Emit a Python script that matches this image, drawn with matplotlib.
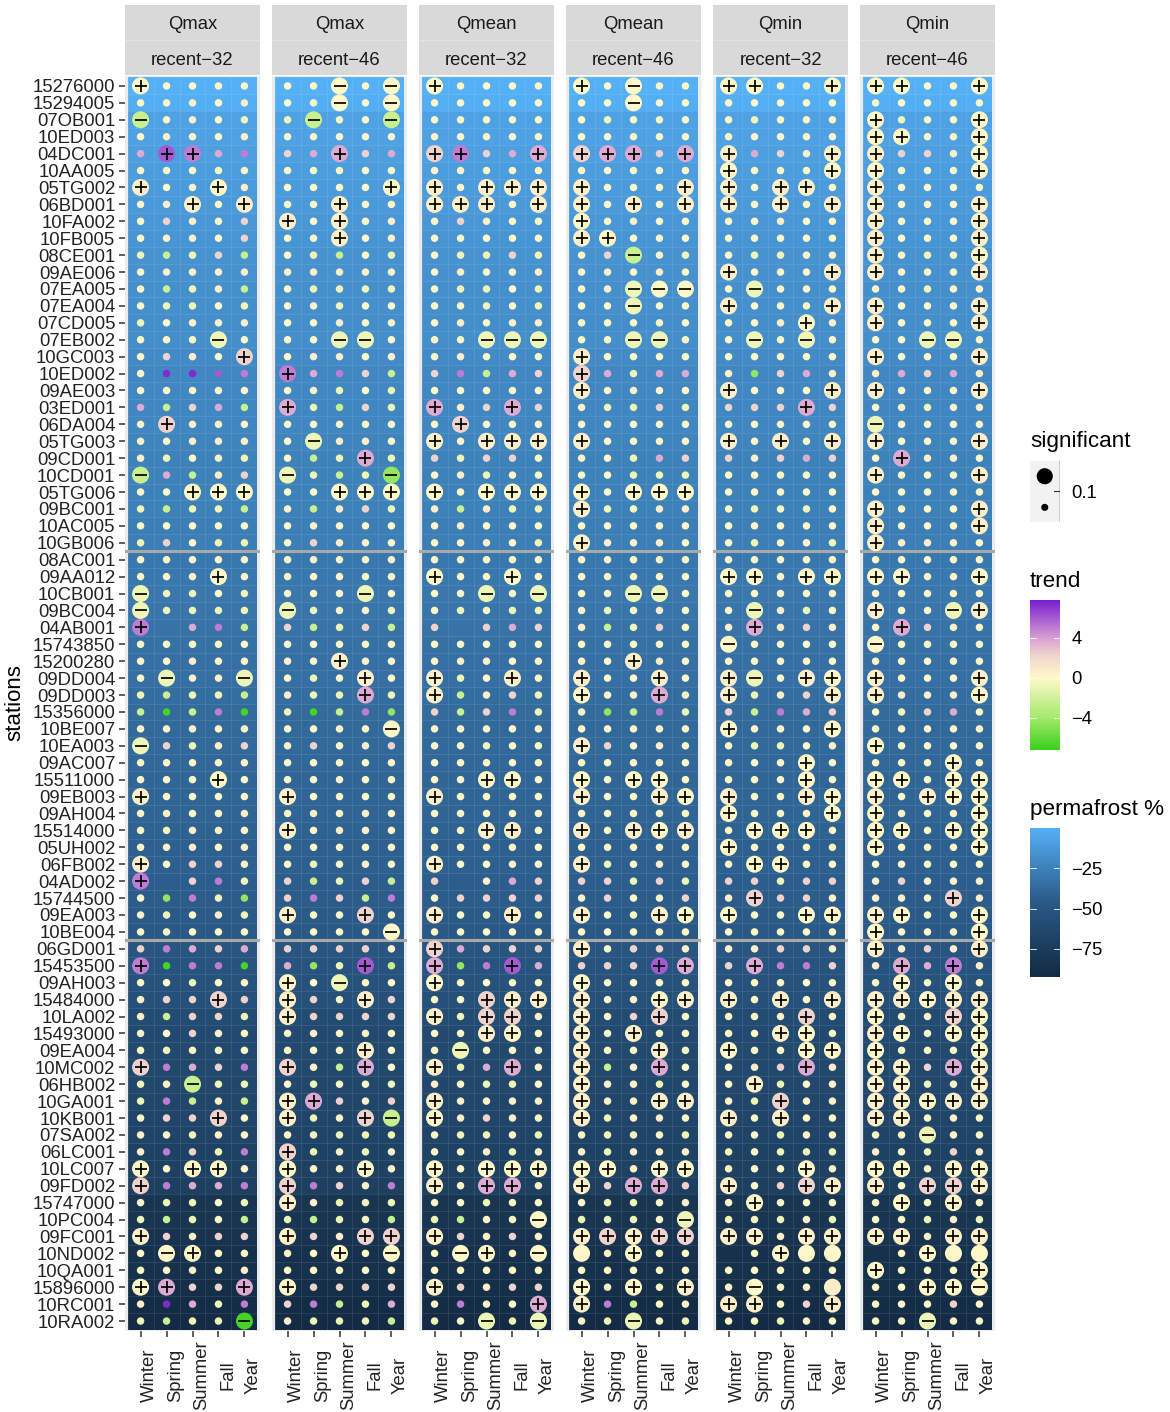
import matplotlib
matplotlib.use("Agg")
import matplotlib.pyplot as plt
import numpy as np
from matplotlib.colors import LinearSegmentedColormap, Normalize

plt.rcParams['font.family'] = ['Liberation Sans', 'DejaVu Sans']

W, H = 1170, 1412

stations = [
    "15276000", "15294005", "07OB001", "10ED003", "04DC001", "10AA005", "05TG002", "06BD001",
    "10FA002", "10FB005", "08CE001", "09AE006", "07EA005", "07EA004", "07CD005", "07EB002",
    "10GC003", "10ED002", "09AE003", "03ED001", "06DA004", "05TG003", "09CD001", "10CD001",
    "05TG006", "09BC001", "10AC005", "10GB006", "08AC001", "09AA012", "10CB001", "09BC004",
    "04AB001", "15743850", "15200280", "09DD004", "09DD003", "15356000", "10BE007", "10EA003",
    "09AC007", "15511000", "09EB003", "09AH004", "15514000", "05UH002", "06FB002", "04AD002",
    "15744500", "09EA003", "10BE004", "06GD001", "15453500", "09AH003", "15484000", "10LA002",
    "15493000", "09EA004", "10MC002", "06HB002", "10GA001", "10KB001", "07SA002", "06LC001",
    "10LC007", "09FD002", "15747000", "10PC004", "09FC001", "10ND002", "10QA001", "15896000",
    "10RC001", "10RA002",
]
seasons = ["Winter", "Spring", "Summer", "Fall", "Year"]
variables = ["Qmax", "Qmax", "Qmean", "Qmean", "Qmin", "Qmin"]
periods = ["recent\u221232", "recent\u221246"] * 3

# permafrost % per station (shown negative in the original)
permafrost = [
    -1, -2, -8, -9, -10, -11, -12, -13, -14, -15, -16, -17, -18, -18, -19, -19, -20, -22, -22, -23,
    -23, -24, -25, -25, -26, -26, -27, -27, -30, -30, -31, -32, -33, -34, -35, -35, -36, -37, -38,
    -38, -39, -40, -40, -41, -42, -43, -43, -44, -45, -46, -47, -50, -52, -54, -56, -60, -62, -63,
    -64, -65, -66, -67, -68, -70, -71, -72, -82, -83, -84, -86, -87, -88, -90, -92,
]

# trend, one letter per cell, one block per panel
trend_levels = {'.': 0.1, 'c': 0.7, 'p': 2.3, 'm': 3.6, 'M': 5.0, 'v': 6.0, 'V': 7.4,
                'y': -0.7, 'g': -2.4, 'G': -4.5, 'H': -6.8}
trend_rows = [
    "..... ..... ..... ..... ..... .....", "..c.c ..... ..... ..... ..... .....",
    "g.c.y yg..g ..... .y... .y... .y...", ".c..c ..... ..... ..... ..... .....",
    "mvMmM pmmpm pMpmm pmmpm cmpcc cppc.", "..... ..... ..... ..... ..... .....",
    "c.c.c ..... c.ccc c...c c.cc. c....", ".cc.c ..c.. ccc.c c.c.c c.c.c c...c",
    ".pc.p c.c.c .pc.. ..c.. ..c.. c...c", ".cc.p ..c.c ..... c.... ..... c...c",
    "ygypg .yg.y .yypy .pg.y .yy.c c.y..", ".cccc ccccc .c..c .c.c. c...c c...c",
    ".gycg .yyyy .yy.y .cy.. .y... ..y..", ".yy.y .cy.. ..y.y ..y.. c...c c...c",
    "y.ccc ..c.c .c.cc ..... ..c.c c...c", "...y. ..yy. ..yyy ..yy. .y.y. ..yy.",
    ".pc.p .cc.c .c... c.... ..... c...c", ".VVvM MmMpg pMgmp pmymm cGpmc cmpmc",
    "..... .cy.y ..... c.c.. c...c c...c", "mgpmg mygpy mcpmp cyypy pppmp .cycc",
    ".pcc. ..... .p... ..... ..... y....", "c.ccc .ycc. c.ccc c.... c.c.c c...c",
    "cy.cy .gymy pypp. c.ymp pcpmp .mcc.", "gmgcp yygyG .cy.. ..yyy ..... c...c",
    "..... ..... ..... ..... ..... .....", "ygyyg cgcpy cgcyy cy.cc .y.y. c...c",
    "..... .c... .c... ..... ..... c...c", "yp.yy .pcc. ..c.y cccc. .y..y cccc.",
    "..... .c..c ..... ..... ..... .....", "..... ..... ..... ..... ..... .....",
    "yyy.y ...y. ..y.y ..yy. ..... .....", "yyyyy yy.cy .y.yy .y.c. .ycy. c..yc",
    "M_mMg pgypg p_pmp cgyp. cmcpc .mpc.", "..... ..... ..... ..... ..... .....",
    "..c.. c.cc. .cc.. ..cc. ..... .....", ".yccy .y.c. cy.c. c..c. cy.c. c...c",
    "ygyyg cyymy cgcpy ..cmc cycpc cccc.", "gHgMH yHgMG pgpMy cGgMy pgMmp .ypm.",
    "..c.. ..... ..... ..... ..... .....", "ypycp cp.cp ..y.. cp.c. .yy.c .....",
    "..... ..... ..... ..... ..... .....", "..... ..... ..... ..... ..... .....",
    "c.... c.... c.... c..c. c..c. c.c..", ".c..c .c.c. ..... ..... ..... .....",
    ".ycc. c.cc. ..cc. c.c.c ..... .....", ".cc.c ..... ..... ..... ..... .....",
    "c.ppc .y.c. c..c. cy.c. ..... .....", "M_pMy pgypg p_cmp ppypy ppypp cpccc",
    ".GMyG pMpgM .pppp cp..p cpppc cc.pc", "cy.cy c..p. c..c. c..c. ..... c....",
    "..... ..... ..... ..... ..... .....", "pMmpm ppppc pmppp c.ppc ccppc ccpcc",
    "MHMMH mGyvg mGMvm pppvm pmMMp cmmMc", "..y.. ..y.. ..... ..... ..... .....",
    "cpppp cp.cp ..pcc c.c.c c.c.c cc.cc", "cgppy cpppp cyppc c.pp. ..cp. ..cp.",
    "c.pc. .c.c. ..c.. c.c.. ..c.. c....", ".y... ...c. .y... c..c. ..... .....",
    "pMmpM pcgm. cymmc cgcm. .cpmc ccpmc", "y.gyy .y..y c.yy. cc.y. .cy.c ccy.c",
    "yMgcg cmpcp cc.cc ccccc .yp.c cc.cc", ".ppp. cy.pg .cpc. cy.c. c.c.. cc.c.",
    "c.y.. .yyyy .yy.y .yy.y ..y.. ..y..", "cMpyM pycyc ..cyc cyc.c y.yyy c.ypc",
    "..... ..... ..... ..... ..... .....", "pMmmM pMpcM c.mmc cpmmp c.ppc c.ppc",
    ".yy.y ccyyy ..y.. .yy.c ..... .....", "ygy.g ygy.g yg... yyy.y y.ycy ..ycy",
    "cpcpp cpcpp cpcpc cpcpp ccccc ccccc", "..... ..... ..... ..... _.... _....",
    ".cc.c ..... ..... ..... ..... .....", ".mppm .pppp cpcpp .c..c c...c .....",
    "cVmyM pMgym cM..m cMg.c cc.pc ...p.", "ygyyH cyyyg y.yyy cyy.y ..y.. ..y..",
]

# significance: + and - are big dots with the sign, o a big dot without one
sig_rows = [
    "+.... ..-.- +.... +.-.. ++..+ ++..+", "..... ..-.- ..... ..-.. ..... .....",
    "-.... .-..- ..... ..... ..... +...+", "..... ..... ..... ..... ..... ++..+",
    ".++.. ..+.. ++..+ +++.+ +...+ +...+", "..... ..... ..... ..... +...+ +...+",
    "+..+. ....+ +.+++ +...+ +.++. +....", "..+.+ ..+.. +++.+ +.+.+ +.+.+ +...+",
    "..... +.+.. ..... +.... ..... +...+", "..... ..+.. ..... ++... ..... +...+",
    "..... ..... ..... ..-.. ..... +...+", "..... ..... ..... ..... +...+ +...+",
    "..... ..... ..... ..--- .-... .....", "..... ..... ..... ..-.. +...+ +...+",
    "..... ..... ..... ..... ...+. +...+", "...-. ..--. ..--- ..--. .-.-. ..--.",
    "....+ ..... ..... +.... ..... +...+", "..... +.... ..... +.... ..... .....",
    "..... ..... ..... +.... +...+ +...+", "..... +.... +..+. ..... ...+. .....",
    ".+... ..... .+... ..... ..... -....", "..... .-... +.+++ +.... +.+.+ +...+",
    "..... ...+. ..... ..... ..... .+...", "-.... -...- ..... ..... ..... +...+",
    "..+++ ..+++ +.+++ +.+++ ..... .....", "..... ..... ..... +.... ..... +...+",
    "..... ..... ..... ..... ..... +...+", "..... ..... ..... +.... ..... +....",
    "..... ..... ..... ..... ..... .....", "...+. ..... +..+. ..... ++.++ ++..+",
    "-.... ...-. ..-.- ..--. ..... .....", "-.... -.... ..... ..... .-... +..-+",
    "+.... ..... ..... ..... .+... .+...", "..... ..... ..... ..... -.... -....",
    "..... ..+.. ..... ..+.. ..... .....", ".-..- ...+. +..+. +..+. +-.++ +...+",
    "..... ...+. +.... +..+. +...+ +...+", "..... ..... ..... ..... ..... .....",
    "..... ....- ..... ..... +...+ .....", "-.... ..... ..... +.... ..... +....",
    "..... ..... ..... ..... ...+. ...+.", "...+. ..... ..++. +.++. ...+. ++.++",
    "+.... +.... +.... +..++ +..++ +.+++", "..... ..... ..... ..... +...+ +...+",
    "..... +.... ..++. +.+++ .+++. ++.++", "..... ..... ..... ..... +.... +...+",
    "+.... ..... +.... +.... .++.. .....", "+.... ..... ..... ..... ..... .....",
    "..... ..... ..... ..... .+... ...+.", "..... +..+. +..+. +..++ +..++ ++..+",
    "..... ....- ..... ..... ..... +...+", "..... ..... +.... +.... ..... +...+",
    "+.... ...+. +..+. ...++ .+... .+.+.", "..... +.-.. +.... +.... ..... .+.+.",
    "...+. +..+. ..+++ +..++ +.+.+ +++++", "..... +.... +.++. +..+. ...+. +..++",
    "..... ..... ..++. +.+.. ..++. ++.++", "..... ...+. .-... +..+. +..++ +...+",
    "+.... +..+. +..+. +..+. ...+. ++.++", "..-.. ..... ..... +.... .+... ++..+",
    "..... ++... +.... +..++ ..+.. +++++", "...+. +..+- +.... +.... +.+.. ++...",
    "..... ..... ..... ..... ..... ..-..", "..... +.... ..... ..... ..... .....",
    "+.++. +..+. +.+++ ++.++ ...+. ++.++", "+.... +.... +.++. +.++. +..++ +.+++",
    "..... +.... ..... ..... .+... .+.+.", "..... ..... ....- ....- ..... .....",
    "+.... +..++ +.... +++++ ++.++ ++.++", ".-+.. ..+.- .-+.- o.+.. ..+oo ..+oo",
    "..... ..... ..... ..... ..... +...+", "++..+ +.... +.... +.+.+ .-..o ..++-",
    "..... ..... ....+ +.... ++..+ .....", "....- ..... ..-.- ..-.. ..... ..-..",
]

trend_cmap = LinearSegmentedColormap.from_list(
    "trend", [(0.0, "#3ad01c"), (3.2 / 15, "#a4ea6c"), (7.2 / 15, "#fff9c8"),
              (9.4 / 15, "#f2d6cc"), (11.2 / 15, "#d8a0d4"), (1.0, "#7a1ecf")])
trend_norm = Normalize(-7.2, 7.8)
perm_cmap = LinearSegmentedColormap.from_list("perm", ["#132b43", "#2a5a87", "#56b1f7"])
perm_norm = Normalize(-92.5, 0)

n_rows = len(stations)
fig = plt.figure(figsize=(W / 100, H / 100), dpi=100, facecolor="white")


def px_axes(x0, y0, x1, y1):
    return fig.add_axes([x0 / W, 1 - y1 / H, (x1 - x0) / W, (y1 - y0) / H])


TEXT = 13.3
for p in range(6):
    x0 = 125 + 147 * p
    ax = px_axes(x0, 75.8, x0 + 135, 1331.2)
    ax.set_facecolor("#ebebeb")
    for s in ax.spines.values():
        s.set_visible(False)

    col = np.array(permafrost, dtype=float).reshape(-1, 1) * np.ones((n_rows, 5))
    ax.pcolormesh(np.arange(0.5, 6), np.arange(0.5, n_rows + 1), col, cmap=perm_cmap, norm=perm_norm)
    ax.hlines(np.arange(0.5, n_rows + 1), 0.5, 5.5, color="white", alpha=0.09, lw=0.8)
    ax.vlines(np.arange(0.5, 6), 0.5, n_rows + 0.5, color="white", alpha=0.09, lw=0.8)

    # station groups
    ax.axhline(28.5, color="#a8a8a8", lw=2.2, zorder=2)
    ax.axhline(51.5, color="#a8a8a8", lw=2.2, zorder=2)

    small_x, small_y, small_c = [], [], []
    big_x, big_y, big_c = [], [], []
    plus_x, plus_y, minus_x, minus_y = [], [], [], []
    for r in range(n_rows):
        tr = trend_rows[r].split()[p]
        sg = sig_rows[r].split()[p]
        for c in range(5):
            if tr[c] == '_':
                continue
            v = trend_levels[tr[c]]
            if sg[c] == '.':
                small_x.append(c + 1); small_y.append(r + 1); small_c.append(v)
            else:
                big_x.append(c + 1); big_y.append(r + 1); big_c.append(v)
                if sg[c] == '+':
                    plus_x.append(c + 1); plus_y.append(r + 1)
                elif sg[c] == '-':
                    minus_x.append(c + 1); minus_y.append(r + 1)
    ax.scatter(small_x, small_y, s=29, c=small_c, cmap=trend_cmap, norm=trend_norm, lw=0, zorder=3)
    ax.scatter(big_x, big_y, s=150, c=big_c, cmap=trend_cmap, norm=trend_norm, lw=0, zorder=4)
    ax.scatter(plus_x, plus_y, s=70, marker='+', c="black", linewidths=1.25, zorder=5)
    ax.scatter(minus_x, minus_y, s=70, marker='_', c="black", linewidths=1.25, zorder=5)

    ax.set_xticks(range(1, 6))
    ax.set_xticklabels([])
    ax.tick_params(axis='x', length=4.5, width=1.1, color="#333333")
    for i, s in enumerate(seasons):
        ax.annotate(s, xy=(i + 1, 0), xycoords=ax.get_xaxis_transform(),
                    xytext=(6.6, -31.8), textcoords='offset points', rotation=90,
                    ha='center', va='center', fontsize=TEXT, color="#222222",
                    annotation_clip=False)
    if p == 0:
        ax.set_yticks(range(1, n_rows + 1))
        ax.set_yticklabels(stations, fontsize=TEXT, color="#222222", va='center_baseline')
        ax.tick_params(axis='y', length=4.5, width=1.1, color="#333333", pad=2.5)
    else:
        ax.set_yticks([])
    # limits go last, set_yticks would widen them
    ax.set_xlim(0.4, 5.6)
    ax.set_ylim(n_rows + 0.6, 0.4)

    # two stacked strips
    st = px_axes(x0, 5, x0 + 135, 75.3)
    st.set_facecolor("#d9d9d9")
    st.set_xticks([])
    st.set_yticks([])
    for s in st.spines.values():
        s.set_visible(False)
    st.axhline(0.505, color="#e2e2e2", lw=0.8)
    st.text(0.5, 0.72, variables[p], ha='center', va='center', fontsize=TEXT,
            color="#1a1a1a", transform=st.transAxes)
    st.text(0.5, 0.21, periods[p], ha='center', va='center', fontsize=TEXT,
            color="#1a1a1a", transform=st.transAxes)

fig.text(15 / W, 1 - 703 / H, "stations", rotation=90, ha='center', va='center', fontsize=16)


def colorbar(y0, y1, cmap, vmin, vmax, ticks, labels):
    ax = px_axes(1030, y0, 1060, y1)
    ax.imshow(np.linspace(vmax, vmin, 256).reshape(-1, 1), cmap=cmap, vmin=vmin, vmax=vmax,
              aspect='auto', extent=[0, 1, vmin, vmax])
    ax.set_xticks([])
    ax.set_yticks([])
    for s in ax.spines.values():
        s.set_visible(False)
    for t, lab in zip(ticks, labels):
        ax.plot([0, 0.2], [t, t], color="white", lw=0.6)
        ax.plot([0.8, 1], [t, t], color="white", lw=0.6)
        ax.annotate(lab, xy=(1.38, t), xycoords=ax.get_yaxis_transform(), xytext=(0, -1.4),
                    textcoords='offset points', ha='left', va='center', fontsize=TEXT,
                    annotation_clip=False)
    ax.set_xlim(0, 1)
    ax.set_ylim(vmin, vmax)


# significant legend
fig.text(1030 / W, 1 - 442 / H, "significant", ha='left', va='center', fontsize=16.2)
key = px_axes(1030, 461, 1059.5, 522)
key.set_facecolor("#f2f2f2")
key.set_xlim(0, 1)
key.set_ylim(1, 0)
key.set_xticks([])
key.set_yticks([])
for s in key.spines.values():
    s.set_visible(False)
key.scatter([0.5, 0.5], [0.25, 0.76], s=[135, 26], c="black", lw=0)
line = px_axes(1054, 461, 1060, 522)
line.axis('off')
line.set_xlim(0, 1)
line.set_ylim(0, 1)
line.plot([0.95, 0.95], [0, 1], color="#333333", lw=1.0)
line.plot([0, 0.95], [0.5, 0.5], color="#333333", lw=0.8)
fig.text(1071 / W, 1 - 494 / H, "0.1", ha='left', va='center', fontsize=TEXT)

fig.text(1030 / W, 1 - 581 / H, "trend", ha='left', va='center', fontsize=16.2)
colorbar(600, 750, trend_cmap, -7.2, 7.8, [4, 0, -4], ["4", "0", "\u22124"])

fig.text(1030 / W, 1 - 809 / H, "permafrost %", ha='left', va='center', fontsize=16.2)
colorbar(828, 977, perm_cmap, -92.5, 0, [-25, -50, -75], ["\u221225", "\u221250", "\u221275"])

fig.savefig("out.png", dpi=100)
